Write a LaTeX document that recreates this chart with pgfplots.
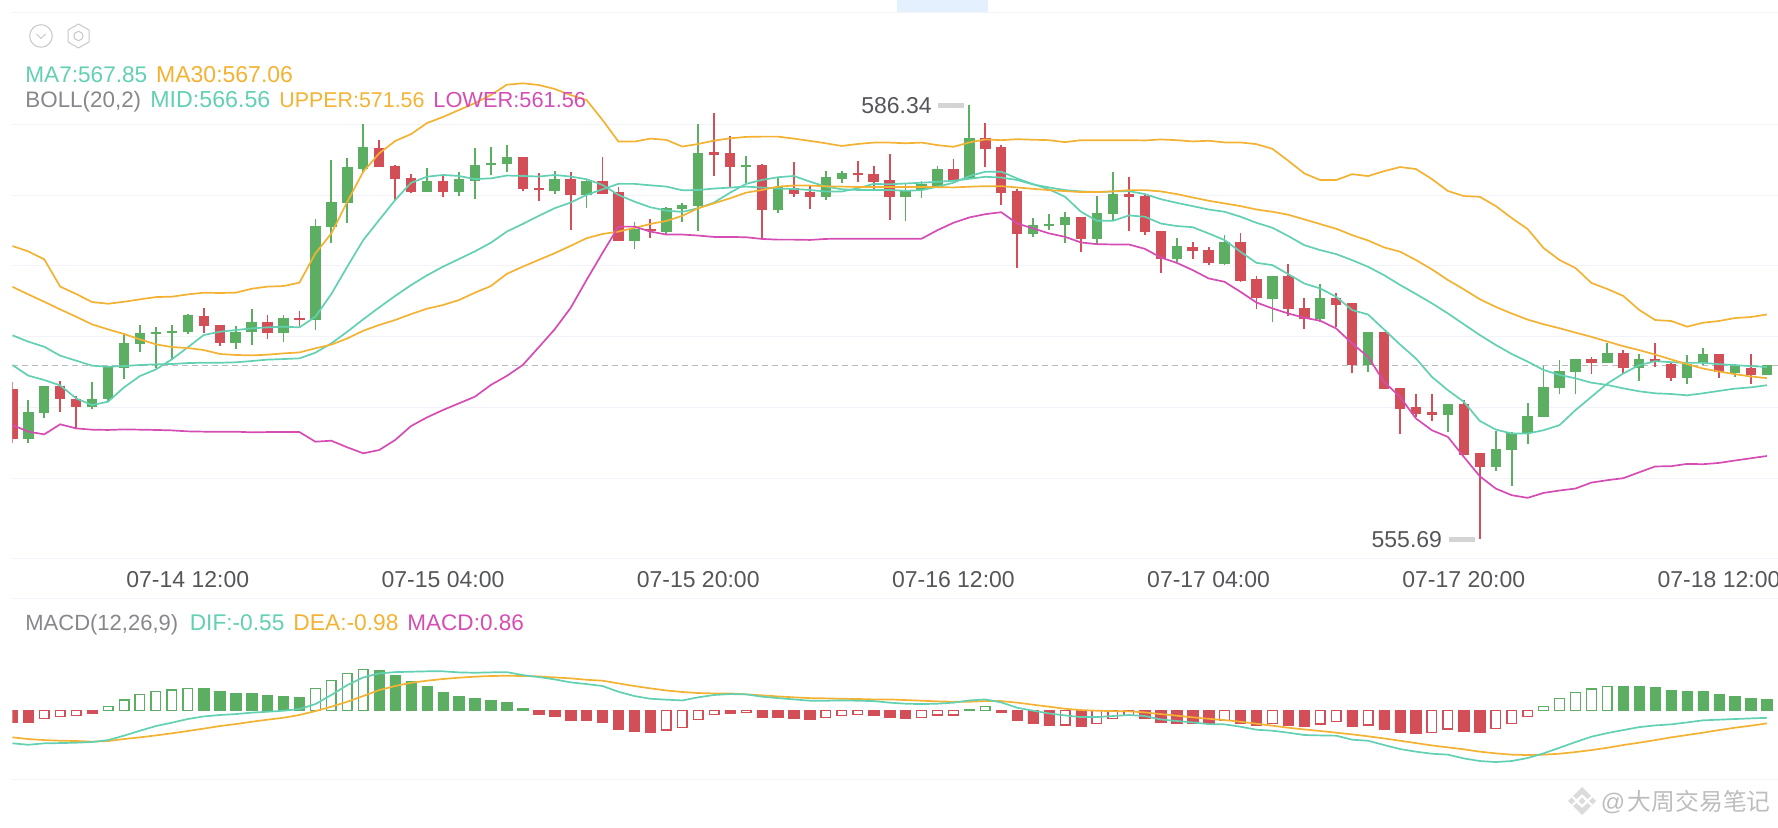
\documentclass[border=0pt]{standalone}
\usepackage{pgfplots}
\pgfplotsset{compat=1.18}
\usepackage{pgfplotstable}
\usepackage{fontspec}
\setmainfont{Liberation Sans}
\newfontfamily\cjk{Noto Sans CJK SC}
\definecolor{cgreen}{HTML}{5BAE62}
\definecolor{cred}{HTML}{D34F58}
\definecolor{cteal}{HTML}{62D0B2}
\definecolor{corange}{HTML}{F4B233}
\definecolor{cmag}{HTML}{D54DB4}
\definecolor{cgrey}{HTML}{87878C}
\definecolor{cgrid}{HTML}{F2F3F8}
\definecolor{cdark}{HTML}{55565A}
% i high top bottom low (rising candles)
\pgfplotstableread{
i h t b l
1 565.52 564.64 562.74 562.50
2 566.50 566.50 564.57 564.22
5 566.81 565.59 565.04 564.86
6 567.87 567.82 565.56 565.47
7 570.27 569.52 567.80 566.98
8 570.79 570.27 569.45 568.91
9 570.70 570.34 570.20 567.75
10 570.82 570.39 570.25 568.34
11 571.59 571.50 570.32 570.16
14 570.75 570.34 569.54 569.14
15 571.95 571.03 570.30 569.40
17 571.50 571.29 570.27 569.64
19 578.28 577.79 571.15 570.49
20 582.48 579.48 577.72 576.63
21 582.62 581.96 579.41 578.05
22 585.00 583.37 581.86 581.53
26 581.89 581.02 580.19 580.19
28 581.63 581.11 580.19 579.93
29 583.30 582.15 581.02 579.70
30 583.37 582.24 582.10 581.44
31 583.54 582.70 582.18 581.66
34 581.71 581.16 580.32 580.06
36 581.07 580.98 580.01 579.07
39 578.08 577.58 576.78 576.17
41 579.14 579.07 577.39 577.23
42 579.42 579.33 579.00 578.12
43 585.00 583.00 579.23 577.49
46 582.79 582.11 581.99 580.83
48 581.19 580.55 578.95 578.71
51 581.71 581.26 579.89 579.66
52 581.71 581.56 581.16 580.83
56 580.79 580.39 579.89 578.20
57 580.98 580.79 580.34 579.82
58 582.05 581.81 580.59 580.47
60 586.34 584.05 581.17 581.17
64 578.39 577.88 577.22 577.05
65 578.63 577.95 577.81 577.52
66 578.82 578.47 577.88 576.63
68 579.93 578.75 576.91 576.53
69 581.62 580.11 578.65 578.23
73 577.00 576.37 575.47 575.24
76 577.17 576.65 575.14 575.05
79 574.27 574.27 572.69 571.00
82 573.73 572.76 571.21 571.04
85 570.29 570.29 567.96 567.51
90 565.24 565.20 564.44 563.24
93 563.31 562.06 560.77 560.51
94 563.26 563.22 561.97 559.47
95 565.27 564.42 563.15 562.42
96 567.93 566.45 564.32 564.32
97 568.31 567.58 566.35 565.95
98 568.38 568.38 567.51 565.93
100 569.51 568.85 568.12 568.12
102 568.80 568.42 567.79 566.85
105 568.68 568.09 567.08 566.63
106 569.20 568.75 568.14 567.98
108 568.09 567.98 567.43 567.15
110 567.98 567.96 567.29 567.29
}\upcandles
% i high top bottom low (falling candles)
\pgfplotstableread{
i h t b l
0 566.81 566.27 562.74 562.50
3 566.88 566.50 565.59 564.69
4 565.80 565.61 565.04 563.51
12 572.02 571.48 570.77 570.27
13 570.84 570.82 569.54 569.36
16 571.50 571.03 570.27 569.80
18 571.78 571.31 571.17 570.77
23 583.87 583.35 581.96 581.96
24 582.12 582.05 581.16 579.60
25 581.46 581.23 580.19 580.12
27 581.35 581.02 580.19 579.89
32 582.67 582.67 580.43 580.32
33 581.54 580.53 580.34 579.59
35 581.63 581.16 579.99 577.54
37 582.70 580.98 580.10 580.08
38 580.57 580.20 576.76 576.76
40 578.31 577.61 577.47 576.99
44 585.78 583.02 582.84 581.38
45 584.18 582.95 581.99 580.55
47 582.18 582.13 578.95 576.95
49 582.34 580.48 580.10 579.84
50 580.67 580.20 579.89 579.00
53 582.41 581.54 581.40 580.95
54 582.04 581.49 580.95 580.36
55 582.88 581.07 579.89 578.24
59 582.54 581.81 581.06 580.94
61 585.06 584.05 583.27 582.00
62 583.51 583.41 580.18 579.31
63 580.44 580.28 577.22 574.84
67 578.47 578.47 576.91 575.99
70 581.29 580.07 579.86 577.48
71 580.11 579.95 577.38 577.19
72 577.45 577.45 575.45 574.46
74 576.65 576.34 576.04 575.47
75 576.34 576.11 575.17 575.03
77 577.33 576.65 573.94 573.85
78 574.30 574.04 572.72 571.94
80 575.14 574.27 571.92 571.47
81 572.72 571.99 571.23 570.57
83 573.05 572.76 572.25 570.69
84 572.34 572.34 567.98 567.39
86 570.29 570.29 566.26 566.26
87 566.35 566.35 564.91 563.10
88 565.93 565.01 564.54 564.32
89 565.93 564.65 564.44 564.04
91 565.55 565.20 561.66 561.66
92 561.78 561.78 560.77 555.69
99 568.57 568.38 568.12 567.32
101 569.04 568.85 567.79 567.39
103 569.51 568.42 568.19 567.84
104 568.19 568.09 567.08 566.85
107 568.75 568.75 567.53 567.10
109 568.75 567.81 567.29 566.68
}\downcandles
\pgfplotstableread{
i upper ma30 mid ma7 lower
0 576.40 573.52 570.09 567.99 563.75
1 576.02 572.98 569.64 567.24 563.28
2 575.46 572.46 569.28 566.93 563.09
3 573.53 571.92 568.65 566.55 563.80
4 573.01 571.40 568.30 565.63 563.51
5 572.44 570.86 567.94 565.16 563.42
6 572.32 570.51 567.87 565.40 563.40
7 572.46 570.18 567.92 566.41 563.44
8 572.63 569.80 567.99 567.21 563.42
9 572.79 569.45 568.04 567.68 563.40
10 572.82 569.26 568.06 568.39 563.37
11 572.98 569.19 568.13 569.24 563.30
12 573.10 569.05 568.15 570.11 563.28
13 573.08 568.77 568.15 570.34 563.28
14 573.10 568.70 568.18 570.46 563.28
15 573.38 568.67 568.27 570.58 563.23
16 573.53 568.72 568.37 570.65 563.25
17 573.57 568.81 568.41 570.70 563.25
18 573.81 568.88 568.46 570.65 563.25
19 575.88 569.17 568.86 571.40 562.57
20 577.29 569.43 569.52 573.01 562.64
21 579.53 569.87 570.34 574.94 562.17
22 581.65 570.41 571.22 576.82 561.75
23 582.95 570.82 572.06 578.24 561.98
24 583.82 571.17 572.87 579.65 562.69
25 584.31 571.59 573.64 580.87 563.68
26 585.09 571.97 574.33 581.30 564.29
27 585.52 572.23 574.94 581.42 564.81
28 586.01 572.58 575.48 581.35 565.28
29 586.50 573.10 576.02 581.13 565.75
30 587.07 573.57 576.63 581.18 566.58
31 587.80 574.43 577.42 581.38 567.22
32 587.90 574.94 577.96 581.35 567.99
33 587.78 575.42 578.53 581.31 569.24
34 587.50 575.89 579.07 581.42 570.51
35 587.07 576.41 579.47 581.31 572.02
36 586.72 576.95 580.01 581.12 574.00
37 585.31 577.25 580.41 580.72 575.91
38 583.78 577.42 580.79 580.01 577.77
39 583.78 577.68 580.79 579.54 577.77
40 583.99 577.96 580.69 579.14 577.42
41 583.90 578.17 580.60 578.90 577.21
42 583.43 578.53 580.34 578.81 577.21
43 583.61 579.07 580.36 579.07 577.14
44 583.85 579.42 580.46 579.47 577.04
45 584.01 579.77 580.53 580.17 577.04
46 584.11 580.17 580.60 580.79 577.02
47 584.13 580.36 580.53 581.07 576.90
48 584.13 580.60 580.46 581.26 576.85
49 583.99 580.67 580.43 581.35 576.85
50 583.83 580.67 580.36 580.95 576.83
51 583.66 580.62 580.25 580.60 576.90
52 583.47 580.60 580.25 580.41 576.92
53 583.61 580.57 580.48 580.36 576.92
54 583.71 580.57 580.79 580.36 576.92
55 583.71 580.57 580.76 580.36 576.92
56 583.66 580.57 580.82 580.30 576.91
57 583.71 580.57 580.87 580.35 576.91
58 583.53 580.56 580.94 580.59 577.52
59 583.41 580.54 581.01 580.87 578.04
60 583.72 580.59 581.15 581.34 578.42
61 583.93 580.63 581.29 581.65 578.65
62 583.88 580.63 581.24 581.65 578.79
63 583.95 580.54 581.06 581.17 577.99
64 583.91 580.44 580.75 580.77 577.64
65 583.88 580.35 580.54 580.40 577.29
66 583.74 580.28 580.35 579.88 577.05
67 583.88 580.21 580.26 578.82 576.65
68 583.88 580.21 580.21 578.18 576.53
69 583.88 580.26 580.26 578.18 576.51
70 583.88 580.35 580.28 578.56 576.51
71 583.86 580.35 580.07 578.47 576.20
72 583.93 580.26 579.71 577.99 575.59
73 583.88 580.07 579.45 577.81 575.21
74 583.79 579.83 579.22 577.73 574.70
75 583.84 579.60 578.98 577.29 574.11
76 583.72 579.41 578.82 576.82 573.87
77 583.72 579.22 578.47 575.99 573.16
78 583.60 578.98 578.04 575.21 572.41
79 583.27 578.82 577.69 575.05 571.99
80 582.42 578.61 577.10 574.41 571.63
81 581.53 578.28 576.46 573.75 571.33
82 581.06 577.95 576.11 573.40 571.12
83 581.06 577.62 575.83 572.81 570.57
84 581.48 577.17 575.40 571.87 569.51
85 581.34 576.79 574.93 571.56 568.57
86 581.69 576.30 574.34 570.50 566.80
87 581.98 576.00 573.65 569.44 565.74
88 581.84 575.41 573.01 568.45 564.21
89 581.13 574.75 572.35 567.15 563.38
90 580.29 574.00 571.64 566.21 562.91
91 579.93 573.34 570.87 565.39 561.50
92 579.88 572.64 570.11 564.04 560.13
93 579.23 572.10 569.41 563.43 559.26
94 578.38 571.63 568.77 563.15 558.79
95 577.60 571.20 568.23 563.15 558.60
96 576.26 570.87 567.64 563.38 558.95
97 575.41 570.59 567.29 563.74 559.12
98 574.85 570.28 567.05 564.80 559.26
99 573.79 569.98 566.74 565.74 559.68
100 573.36 569.65 566.58 566.68 559.85
101 572.87 569.32 566.34 567.39 559.99
102 571.88 569.04 566.13 567.98 560.41
103 571.17 568.73 565.99 568.26 560.82
104 571.10 568.38 565.94 568.19 560.84
105 570.70 568.05 565.85 568.14 561.00
106 570.98 567.74 565.99 568.14 560.98
107 571.10 567.53 566.16 568.05 561.07
108 571.31 567.34 566.32 567.98 561.24
109 571.38 567.18 566.41 567.91 561.40
110 571.56 567.06 566.56 567.85 561.56
}\pricelines
\pgfplotstableread{
i dif dea
0 -2.51 -2.05
1 -2.62 -2.18
2 -2.51 -2.26
3 -2.49 -2.31
4 -2.46 -2.33
5 -2.41 -2.38
6 -2.26 -2.33
7 -1.92 -2.18
8 -1.54 -2.05
9 -1.18 -1.90
10 -0.92 -1.74
11 -0.64 -1.56
12 -0.44 -1.38
13 -0.33 -1.18
14 -0.26 -1.03
15 -0.15 -0.85
16 -0.08 -0.69
17 0.00 -0.54
18 0.13 -0.33
19 0.51 -0.03
20 1.21 0.31
21 1.97 0.69
22 2.56 1.13
23 2.87 1.59
24 2.97 1.90
25 3.00 2.15
26 3.03 2.31
27 3.03 2.44
28 2.95 2.54
29 2.92 2.62
30 2.95 2.67
31 2.97 2.69
32 2.74 2.67
33 2.59 2.64
34 2.41 2.56
35 2.18 2.49
36 2.05 2.38
37 1.90 2.31
38 1.46 2.10
39 1.13 1.90
40 0.92 1.72
41 0.85 1.56
42 0.79 1.44
43 1.03 1.36
44 1.21 1.33
45 1.28 1.33
46 1.26 1.26
47 1.08 1.18
48 0.97 1.10
49 0.87 1.03
50 0.77 0.97
51 0.77 0.95
52 0.79 0.92
53 0.77 0.90
54 0.74 0.87
55 0.62 0.87
56 0.54 0.82
57 0.51 0.77
58 0.54 0.72
59 0.62 0.69
60 0.79 0.69
61 0.87 0.74
62 0.64 0.74
63 0.23 0.62
64 0.00 0.46
65 -0.21 0.31
66 -0.36 0.15
67 -0.49 0.05
68 -0.49 0.00
69 -0.41 -0.03
70 -0.33 -0.05
71 -0.41 -0.13
72 -0.67 -0.26
73 -0.79 -0.38
74 -0.90 -0.51
75 -1.03 -0.62
76 -1.05 -0.72
77 -1.23 -0.85
78 -1.46 -1.00
79 -1.54 -1.15
80 -1.69 -1.31
81 -1.87 -1.44
82 -1.90 -1.56
83 -1.92 -1.69
84 -2.23 -1.82
85 -2.31 -1.97
86 -2.64 -2.13
87 -2.95 -2.31
88 -3.15 -2.49
89 -3.31 -2.67
90 -3.38 -2.82
91 -3.67 -2.97
92 -3.87 -3.15
93 -3.95 -3.28
94 -3.87 -3.38
95 -3.64 -3.41
96 -3.28 -3.38
97 -2.85 -3.31
98 -2.41 -3.18
99 -2.00 -3.03
100 -1.72 -2.85
101 -1.49 -2.64
102 -1.26 -2.46
103 -1.13 -2.26
104 -1.05 -2.05
105 -0.90 -1.87
106 -0.74 -1.69
107 -0.69 -1.49
108 -0.64 -1.31
109 -0.59 -1.15
110 -0.55 -0.98
}\macdlines
\pgfplotstableread{
i v
0 -0.87
1 -0.92
5 -0.21
33 -0.28
34 -0.46
35 -0.72
36 -0.77
37 -0.92
38 -1.41
39 -1.62
40 -1.69
45 -0.21
47 -0.51
48 -0.54
49 -0.59
50 -0.64
54 -0.33
55 -0.51
56 -0.56
62 -0.15
63 -0.72
64 -1.00
65 -1.13
67 -1.21
71 -0.56
72 -0.87
73 -0.95
74 -1.00
75 -1.00
77 -0.97
78 -1.13
80 -1.13
81 -1.23
84 -1.23
86 -1.41
87 -1.69
88 -1.74
91 -1.59
92 -1.67
}\barredfill
\pgfplotstableread{
i v
2 -0.62
3 -0.46
4 -0.36
41 -1.49
42 -1.28
43 -0.67
44 -0.28
46 -0.13
51 -0.51
52 -0.38
53 -0.28
57 -0.51
58 -0.33
59 -0.33
66 -1.10
68 -1.00
69 -0.62
70 -0.36
76 -0.77
79 -0.97
82 -1.03
83 -0.85
85 -1.10
89 -1.67
90 -1.41
93 -1.38
94 -0.97
95 -0.46
}\barredhollow
\pgfplotstableread{
i v
12 1.69
13 1.46
14 1.33
15 1.31
16 1.15
17 1.13
18 1.05
23 3.10
24 2.74
25 2.26
26 1.85
27 1.38
28 1.08
29 0.95
30 0.77
31 0.64
32 0.18
60 0.13
101 1.87
102 1.87
103 1.77
104 1.56
105 1.49
106 1.46
107 1.26
108 1.13
109 0.97
110 0.86
}\bargreenfill
\pgfplotstableread{
i v
6 0.31
7 0.82
8 1.23
9 1.49
10 1.59
11 1.72
19 1.72
20 2.31
21 2.85
22 3.18
61 0.31
96 0.31
97 0.92
98 1.38
99 1.67
100 1.87
}\bargreenhollow
\begin{document}
\begin{tikzpicture}
\path[use as bounding box] (0,0) rectangle (889pt,414pt);
\begin{axis}[
  at={(6.175pt,134.85pt)}, anchor=south west, scale only axis,
  width=882.825pt, height=272.8pt,
  xmin=0, xmax=110.7, ymin=554.33, ymax=592.89,
  axis line style={draw=none}, tick style={draw=none},
  ytick={560,565,570,575,580,585}, yticklabel=\empty,
  ymajorgrids, grid style={cgrid, line width=0.5pt},
  xtick={11,27,43,59,75,91,107},
  xticklabels={07-14 12:00,07-15 04:00,07-15 20:00,07-16 12:00,07-17 04:00,07-17 20:00,07-18 12:00},
  xticklabel style={font=\fontsize{11.5}{13}\selectfont, text=cdark, anchor=base, yshift=-14.5pt},
]
\addplot[dash pattern=on 3pt off 2pt, color=black!27, line width=0.6pt] coordinates {(0,567.94) (110.7,567.94)};
% wicks
\addplot[draw=none, mark=none, error bars/.cd, y dir=plus, y explicit, error mark=none, error bar style={line width=0.9pt, cgreen}]
  table[x=i, y=l, y error expr=\thisrow{h}-\thisrow{l}] {\upcandles};
\addplot[draw=none, mark=none, error bars/.cd, y dir=plus, y explicit, error mark=none, error bar style={line width=0.9pt, cred}]
  table[x=i, y=l, y error expr=\thisrow{h}-\thisrow{l}] {\downcandles};
% bodies
\addplot[draw=none, mark=none, error bars/.cd, y dir=plus, y explicit, error mark=none, error bar style={line width=5.2pt, cgreen}]
  table[x=i, y=b, y error expr=\thisrow{t}-\thisrow{b}] {\upcandles};
\addplot[draw=none, mark=none, error bars/.cd, y dir=plus, y explicit, error mark=none, error bar style={line width=5.2pt, cred}]
  table[x=i, y=b, y error expr=\thisrow{t}-\thisrow{b}] {\downcandles};
% lines
\addplot[cteal, line width=0.85pt, no marks] table[x=i, y=mid] {\pricelines};
\addplot[cteal, line width=0.85pt, no marks] table[x=i, y=ma7] {\pricelines};
\addplot[corange, line width=0.85pt, no marks] table[x=i, y=ma30] {\pricelines};
\addplot[corange, line width=0.85pt, no marks] table[x=i, y=upper] {\pricelines};
\addplot[cmag, line width=0.85pt, no marks] table[x=i, y=lower] {\pricelines};
\end{axis}
\begin{axis}[
  at={(6.175pt,24pt)}, anchor=south west, scale only axis,
  width=882.825pt, height=90.85pt,
  xmin=0, xmax=110.7, ymin=-5.33, ymax=8.65,
  axis lines=none,
]
\addplot[ybar, bar width=5.2pt, bar shift=0pt, fill=cred, draw=cred, line width=0.3pt] table[x=i, y=v] {\barredfill};
\addplot[ybar, bar width=4.8pt, bar shift=0pt, fill=white, draw=cred, line width=0.7pt] table[x=i, y=v] {\barredhollow};
\addplot[ybar, bar width=5.2pt, bar shift=0pt, fill=cgreen, draw=cgreen, line width=0.3pt] table[x=i, y=v] {\bargreenfill};
\addplot[ybar, bar width=4.8pt, bar shift=0pt, fill=white, draw=cgreen, line width=0.7pt] table[x=i, y=v] {\bargreenhollow};
\addplot[corange, line width=0.85pt, no marks] table[x=i, y=dea] {\macdlines};
\addplot[cteal, line width=0.85pt, no marks] table[x=i, y=dif] {\macdlines};
\end{axis}
\begin{scope}[x=0.5pt, y=-0.5pt, yshift=414pt]
\fill[blue!60!cyan!10] (897,0) rectangle (988,12.5);
\foreach \yy in {12.7,558.3,598.3,780} \draw[cgrid, line width=0.5pt] (12.3,\yy) -- (1778,\yy);
% icons
\draw[black!22, line width=0.5pt] (41,36) circle (11.3);
\draw[black!22, line width=0.5pt] (36.5,34) -- (41,38.5) -- (45.5,34);
\draw[black!22, line width=0.5pt] (78.5,24) -- (89,30) -- (89,42) -- (78.5,48) -- (68,42) -- (68,30) -- cycle;
\draw[black!22, line width=0.5pt] (78.5,36) circle (4.6);
% indicator read-outs
\newcommand\rd[4]{\node[anchor=base west, inner sep=0pt, font=\fontsize{#2}{13}\selectfont, text=#3] at (#1) {#4};}
\rd{25,82.3}{11.3}{cteal}{MA7:567.85}
\rd{155.8,82.3}{11.5}{corange}{MA30:567.06}
\rd{25,107.7}{11.2}{cgrey}{BOLL(20,2)}
\rd{150,107.7}{11.6}{cteal}{MID:566.56}
\rd{279,107.7}{10.7}{corange}{UPPER:571.56}
\rd{433,107.7}{10.9}{cmag}{LOWER:561.56}
\rd{25,630.7}{11}{cgrey}{MACD(12,26,9)}
\rd{189.4,630.7}{11.35}{cteal}{DIF:-0.55}
\rd{293,630.7}{11.4}{corange}{DEA:-0.98}
\rd{407,630.7}{11.27}{cmag}{MACD:0.86}
% extreme labels
\node[anchor=base east, inner sep=0pt, font=\fontsize{11.5}{13}\selectfont, text=cdark] at (932,113.3) {586.34};
\fill[black!17] (938,103.4) rectangle (964,108);
\node[anchor=base east, inner sep=0pt, font=\fontsize{11.5}{13}\selectfont, text=cdark] at (1442.4,547.3) {555.69};
\fill[black!17] (1449,537) rectangle (1475,541.6);
% watermark
\node[anchor=base west, inner sep=0pt, text=black!26, font=\fontsize{12}{14}\selectfont] at (1600.5,811) {@};
\node[anchor=base west, inner sep=0pt, text=black!26, font=\fontsize{11.9}{14}\cjk] at (1627.5,811) {大周交易笔记};
\begin{scope}[black!14]
\fill (1582,787) -- (1591,796) -- (1587.5,799) -- (1582,794) -- (1576.5,799) -- (1573,796) -- cycle;
\fill (1582,815) -- (1591,806) -- (1587.5,803) -- (1582,808) -- (1576.5,803) -- (1573,806) -- cycle;
\fill (1568,801) -- (1571.5,797.5) -- (1575,801) -- (1571.5,804.5) -- cycle;
\fill (1589,801) -- (1592.5,797.5) -- (1596,801) -- (1592.5,804.5) -- cycle;
\fill (1582,797.5) -- (1585.5,801) -- (1582,804.5) -- (1578.5,801) -- cycle;
\end{scope}
\end{scope}
\end{tikzpicture}
\end{document}
